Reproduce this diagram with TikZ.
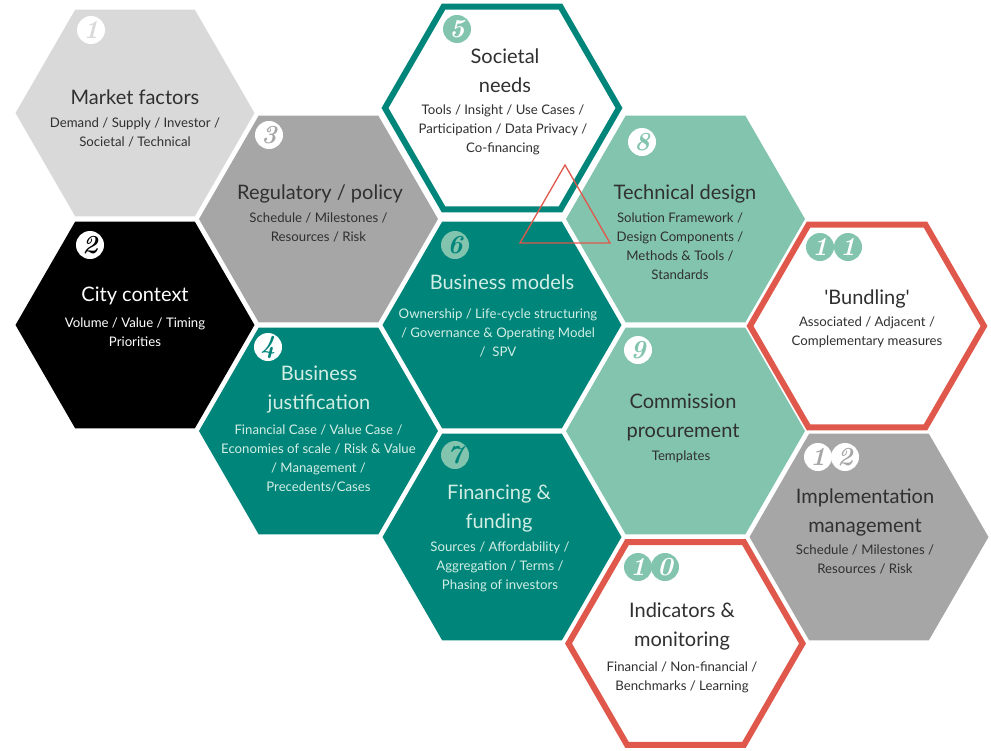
\documentclass[tikz,border=0pt]{standalone}
\usepackage{fontspec}
\setmainfont{Lato}
\newfontfamily\sqfont{Lato}[Ligatures=TeXOff]
\newfontfamily\numfont{Latin Modern Roman}
\usetikzlibrary{shapes.geometric}
\definecolor{tealc}{HTML}{00857A}
\definecolor{mintc}{HTML}{82C4AE}
\definecolor{lgreyc}{HTML}{D9D9D9}
\definecolor{mgreyc}{HTML}{A6A6A6}
\definecolor{redc}{HTML}{E0584C}
\definecolor{darktxt}{HTML}{303030}
\definecolor{lighttxt}{HTML}{D2EEE4}
\tikzset{
  hexfill/.style={regular polygon, regular polygon sides=6, minimum size=239pt, inner sep=0pt, outer sep=0pt, draw=none},
  hexline/.style={regular polygon, regular polygon sides=6, minimum size=234pt, inner sep=0pt, outer sep=0pt, fill=white, line width=6pt},
  ttl/.style={align=center, font=\fontsize{20}{29}\selectfont, inner sep=0pt},
  sub/.style={align=center, font=\fontsize{13.2}{19}\selectfont, inner sep=0pt},
  badge/.style={circle, minimum size=28pt, inner sep=0pt, font=\numfont\bfseries\itshape\fontsize{26}{26}\selectfont},
}
\begin{document}
\begin{tikzpicture}[x=1pt,y=-1pt]
\useasboundingbox (0,0) rectangle (991,750);
% filled hexagons
\node[hexfill, fill=lgreyc] (h1) at (135,113) {};
\node[hexfill, fill=black] (h2) at (135,325) {};
\node[hexfill, fill=mgreyc] (h3) at (318.5,219) {};
\node[hexfill, fill=tealc] (h4) at (318.5,431) {};
\node[hexfill, fill=tealc] (h6) at (502,325) {};
\node[hexfill, fill=tealc] (h7) at (502,537) {};
\node[hexfill, fill=mintc] (h8) at (685.5,219) {};
\node[hexfill, fill=mintc] (h9) at (685.5,431) {};
\node[hexfill, fill=mgreyc] (h12) at (869,537) {};
% outlined hexagons
\node[hexline, draw=tealc] (h5) at (502,108) {};
\node[hexline, draw=redc] (h11) at (867,326) {};
\node[hexline, draw=redc] (h10) at (685.5,643.5) {};
% texts
\node[ttl, text=darktxt] (t1) at (135,97) {Market factors};
\node[sub, text=darktxt] (s1) at (135,132.5) {Demand / Supply / Investor /\\Societal / Technical};
\node[ttl, text=white] (t2) at (135,296) {City context};
\node[sub, text=white] (s2) at (135,332.5) {Volume / Value / Timing\\Priorities};
\node[ttl, text=darktxt] (t3) at (320,194) {Regulatory / policy};
\node[sub, text=darktxt] (s3) at (318.5,227.5) {Schedule / Milestones /\\Resources / Risk};
\node[ttl, text=lighttxt] (t4) at (319,390) {Business\\justification};
\node[sub, text=lighttxt] (s4) at (318.5,458) {Financial Case / Value Case /\\Economies of scale / Risk \& Value\\/ Management /\\Precedents/Cases};
\node[ttl, text=darktxt] (t5) at (505,70.5) {Societal\\needs};
\node[sub, text=darktxt] (s5) at (503,130) {Tools / Insight / Use Cases /\\Participation / Data Privacy /\\Co-financing};
\node[ttl, text=lighttxt] (t6) at (502,282) {Business models};
\node[sub, text=lighttxt] (s6) at (498,333) {Ownership / Life-cycle structuring\\/ Governance \& Operating Model\\/\ \ SPV};
\node[ttl, text=lighttxt] (t7) at (499,509) {Financing \&\\funding};
\node[sub, text=lighttxt] (s7) at (500,567) {Sources / Affordability /\\Aggregation / Terms /\\Phasing of investors};
\node[ttl, text=darktxt] (t8) at (685,194) {Technical design};
\node[sub, text=darktxt] (s8) at (680,246.5) {Solution Framework /\\Design Components /\\Methods \& Tools /\\Standards};
\node[ttl, text=darktxt] (t9) at (683,417.5) {Commission\\procurement};
\node[sub, text=darktxt] (s9) at (681,457) {Templates};
\node[ttl, text=darktxt] (t10) at (682,626.5) {Indicators \&\\monitoring};
\node[sub, text=darktxt] (s10) at (682,677.5) {Financial / Non-financial /\\Benchmarks / Learning};
\node[ttl, text=darktxt] (t11) at (867,299) {{\sqfont'}Bundling{\sqfont'}};
\node[sub, text=darktxt] (s11) at (867,332.5) {Associated / Adjacent /\\Complementary measures};
\node[ttl, text=darktxt] (t12) at (865,512.5) {Implementation\\management};
\node[sub, text=darktxt] (s12) at (865,559.5) {Schedule / Milestones /\\Resources / Risk};
% badges
\node[badge, fill=white, text=lgreyc] (b1) at (91,30) {1};
\node[badge, fill=white, text=black] (b2) at (90,245) {2};
\node[badge, fill=white, text=mgreyc] (b3) at (269,135) {3};
\node[badge, fill=white, text=tealc] (b4) at (268,347) {4};
\node[badge, fill=mintc, text=white] (b5) at (457,29) {5};
\node[badge, fill=mintc, text=tealc] (b6) at (455,245) {6};
\node[badge, fill=mintc, text=tealc] (b7) at (455,455) {7};
\node[badge, fill=white, text=mintc] (b8) at (642,142) {8};
\node[badge, fill=white, text=mintc] (b9) at (638,350) {9};
\node[badge, fill=mintc, text=white] (b10a) at (638,567) {1};
\node[badge, fill=mintc, text=white] (b10b) at (665,567) {0};
\node[badge, fill=mintc, text=white] (b11a) at (820,247) {1};
\node[badge, fill=mintc, text=white] (b11b) at (848,247) {1};
\node[badge, fill=white, text=mgreyc] (b12a) at (818,457) {1};
\node[badge, fill=white, text=mgreyc] (b12b) at (845,457) {2};
% triangle
\coordinate (tA) at (565,165);
\coordinate (tB) at (520,243);
\coordinate (tC) at (610,243);
\draw[redc, line width=1.3pt, line join=miter] (tA) -- (tB) -- (tC) -- cycle;
\end{tikzpicture}
\end{document}
